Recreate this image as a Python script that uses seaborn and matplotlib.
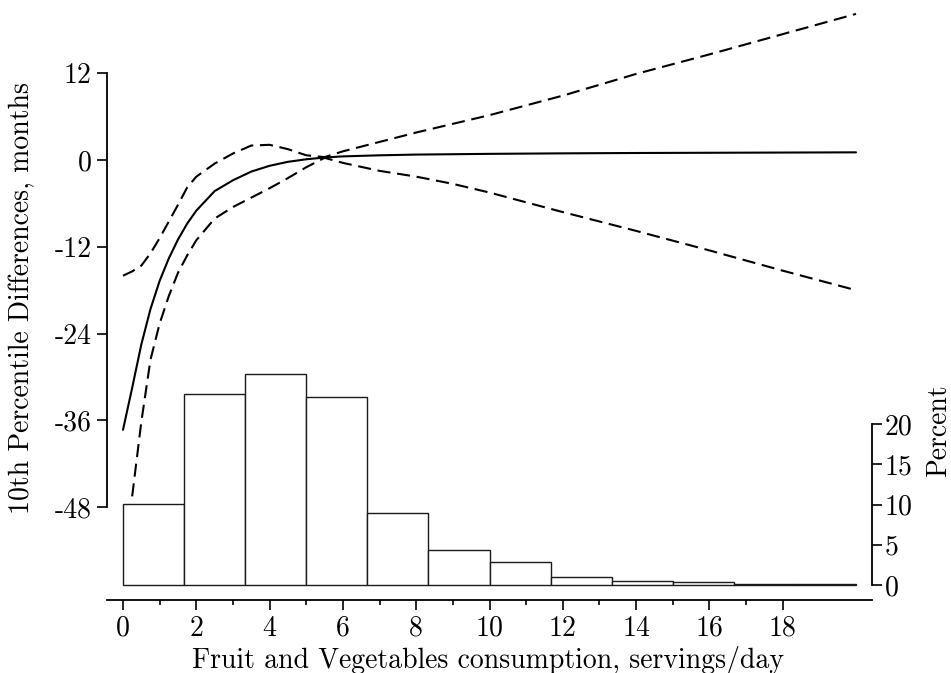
import numpy as np
import pandas as pd
import matplotlib
matplotlib.use("Agg")
import matplotlib.pyplot as plt
import seaborn as sns

# ---- data ----
x_vals = [0, 0.25, 0.5, 0.75, 1, 1.25, 1.5, 1.75, 2, 2.5, 3, 3.5, 4, 4.5, 5,
          5.5, 6, 7, 8, 9, 10, 12, 14, 16, 18, 20]
center = [-37.3, -31.5, -25.5, -20.6, -16.7, -13.6, -11.0, -8.8, -7.0, -4.3,
          -2.8, -1.6, -0.8, -0.25, 0.1, 0.35, 0.5, 0.65, 0.75, 0.8, 0.85,
          0.92, 0.97, 1.0, 1.03, 1.06]
upper = [-16.0, -15.4, -14.6, -12.9, -10.8, -8.5, -6.2, -3.8, -2.3, -0.5,
         0.9, 2.0, 2.1, 1.5, 0.65, 0.4, 1.2, 2.5, 3.8, 5.0, 6.2, 8.9, 11.9,
         14.6, 17.4, 20.2]
lower = [None, -46.5, -36.2, -27.6, -22.6, -18.8, -15.6, -13.2, -11.1, -8.1,
         -6.5, -5.2, -3.9, -2.5, -1.0, 0.3, -0.4, -1.5, -2.3, -3.3, -4.5,
         -7.2, -9.8, -12.5, -15.3, -18.0]

bin_edges = [0, 1.667, 3.333, 5, 6.667, 8.333, 10, 11.667, 13.333, 15,
             16.667, 18.333, 20]
hist_pct = [10.1, 23.7, 26.2, 23.4, 8.9, 4.4, 2.8, 0.95, 0.5, 0.4, 0.15, 0.1]

y_ticks = [12, 0, -12, -24, -36, -48]
x_ticks = [0, 2, 4, 6, 8, 10, 12, 14, 16, 18]
x_minor = [1, 3, 5, 7, 9, 11, 13, 15, 17]
pct_ticks = [0, 5, 10, 15, 20]

xlabel = "Fruit and Vegetables consumption, servings/day"
ylabel = "10th Percentile Differences, months"
ylabel2 = "Percent"

# ---- style ----
sns.set_style("ticks")
plt.rcParams.update({
    "font.family": ["cmr10", "DejaVu Serif"],
    "axes.unicode_minus": False,
    "mathtext.fontset": "cm",
    "font.size": 20,
    "axes.linewidth": 1.3,
    "axes.edgecolor": "black",
    "xtick.color": "black",
    "ytick.color": "black",
    "text.color": "black",
    "axes.labelcolor": "black",
})

fig = plt.figure(figsize=(9.51, 6.73), dpi=100)
ax = fig.add_axes([107 / 951, 73 / 673, 765 / 951, 595 / 673])
ax2 = ax.twinx()

# ---- histogram (right axis) ----
bin_centers = [(a + b) / 2 for a, b in zip(bin_edges[:-1], bin_edges[1:])]
hdf = pd.DataFrame({"x": bin_centers, "pct": hist_pct})
sns.histplot(data=hdf, x="x", weights="pct", bins=bin_edges, ax=ax2,
             color="white", edgecolor="#1a1a1a", linewidth=1.0, alpha=1.0)

# ---- curves (left axis) ----
df = pd.DataFrame({"x": x_vals, "center": center, "upper": upper,
                   "lower": pd.to_numeric(pd.Series(lower), errors="coerce")})
dash = (0, (6.3, 3.2))
sns.lineplot(data=df, x="x", y="center", ax=ax, color="black", lw=1.5)
sns.lineplot(data=df, x="x", y="upper", ax=ax, color="black", lw=1.5,
             linestyle=dash)
sns.lineplot(data=df.dropna(subset=["lower"]), x="x", y="lower", ax=ax,
             color="black", lw=1.5, linestyle=dash)

ax.set_zorder(ax2.get_zorder() + 1)
ax.patch.set_visible(False)

# ---- axes limits / spines ----
ax.set_xlim(-0.4366, 20.436)
ax.set_ylim(-60.83, 21.43)
ax2.set_ylim(-1.863, 72.05)

ax.set_xticks(x_ticks)
ax.set_xticklabels([str(t) for t in x_ticks])
ax.set_xticks(x_minor, minor=True)
ax.set_yticks(y_ticks)
ax.set_yticklabels([str(t) for t in y_ticks])
ax2.set_yticks(pct_ticks)
ax2.set_yticklabels([str(t) for t in pct_ticks])

for s in ["top", "right"]:
    ax.spines[s].set_visible(False)
for s in ["top", "left", "bottom"]:
    ax2.spines[s].set_visible(False)
ax.spines["left"].set_bounds(-48, 12)
ax2.spines["right"].set_bounds(0, 20)

ax.tick_params(axis="both", which="major", length=7, width=1.2, pad=4,
               labelsize=20)
ax.tick_params(axis="x", which="minor", length=3.5, width=1.2)
ax2.tick_params(axis="y", which="major", length=7, width=1.2, pad=2,
                labelsize=20)

ax.set_xlabel(xlabel, fontsize=20)
ax.set_ylabel(ylabel, fontsize=20)
ax2.set_ylabel(ylabel2, fontsize=20)
ax.xaxis.set_label_coords(0.4986, -0.101)
ax.xaxis.label.set_va("center")
ax.yaxis.set_label_coords(-0.1105, 0.507)
ax.yaxis.label.set_va("center")
ax2.yaxis.set_label_coords(1.0876, 0.284)
ax2.yaxis.label.set_va("center")
ax2.yaxis.label.set_ha("center")

fig.savefig("out.png", dpi=100, facecolor="white")
